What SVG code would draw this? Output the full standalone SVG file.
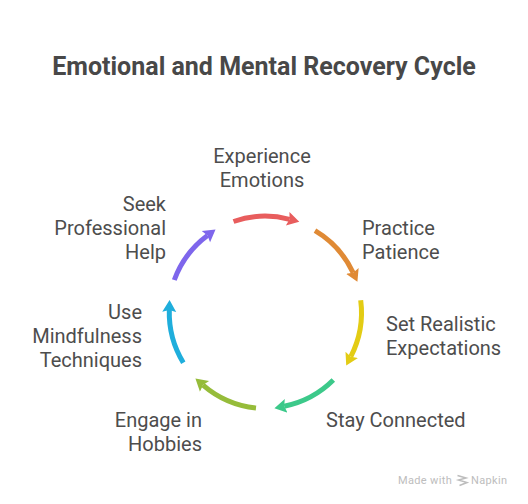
<svg xmlns="http://www.w3.org/2000/svg" width="528" height="504" viewBox="0 0 528 504">
<defs>
<style>
text{font-family:Roboto,"Liberation Sans",sans-serif;fill:#4d4d4d;font-size:20px}
.title{font-size:25px;font-weight:700;text-anchor:middle;fill:#484848}
.m{text-anchor:middle}.e{text-anchor:end}.s{text-anchor:start}
.wm{font-size:11px;fill:#bdbdbd;letter-spacing:.35px}
.arc{fill:none;stroke-width:5}
</style>
<marker id="h1" markerUnits="userSpaceOnUse" markerWidth="14" markerHeight="18" refX="2" refY="8" orient="auto"><path d="M0 1L12 8L0 15L2 8Z" fill="#E85D5D"/></marker>
<marker id="h2" markerUnits="userSpaceOnUse" markerWidth="14" markerHeight="18" refX="2" refY="8" orient="auto"><path d="M0 1L12 8L0 15L2 8Z" fill="#E08A35"/></marker>
<marker id="h3" markerUnits="userSpaceOnUse" markerWidth="14" markerHeight="18" refX="2" refY="8" orient="auto"><path d="M0 1L12 8L0 15L2 8Z" fill="#E3CC14"/></marker>
<marker id="h4" markerUnits="userSpaceOnUse" markerWidth="14" markerHeight="18" refX="2" refY="8" orient="auto"><path d="M0 1L12 8L0 15L2 8Z" fill="#3CC98A"/></marker>
<marker id="h5" markerUnits="userSpaceOnUse" markerWidth="14" markerHeight="18" refX="2" refY="8" orient="auto"><path d="M0 1L12 8L0 15L2 8Z" fill="#96BC3A"/></marker>
<marker id="h6" markerUnits="userSpaceOnUse" markerWidth="14" markerHeight="18" refX="2" refY="8" orient="auto"><path d="M0 1L12 8L0 15L2 8Z" fill="#1FAEDC"/></marker>
<marker id="h7" markerUnits="userSpaceOnUse" markerWidth="14" markerHeight="18" refX="2" refY="8" orient="auto"><path d="M0 1L12 8L0 15L2 8Z" fill="#7E66EC"/></marker>
</defs>
<rect width="528" height="504" fill="#fff"/>
<text class="title" x="264" y="75">Emotional and Mental Recovery Cycle</text>
<g id="connectors">
<path class="arc" stroke="#E85D5D" marker-end="url(#h1)" d="M233.5 221.5A96.5 96.5 0 0 1 289.6 219.3"/>
<path class="arc" stroke="#E08A35" marker-end="url(#h2)" d="M315 230.7A96.5 96.5 0 0 1 353.15 272.7"/>
<path class="arc" stroke="#E3CC14" marker-end="url(#h3)" d="M360.7 300.3A96.5 96.5 0 0 1 350.8 356.7"/>
<path class="arc" stroke="#3CC98A" marker-end="url(#h4)" d="M333.3 380A96.5 96.5 0 0 1 284.2 406.2"/>
<path class="arc" stroke="#96BC3A" marker-end="url(#h5)" d="M256 408A96.5 96.5 0 0 1 203 385.1"/>
<path class="arc" stroke="#1FAEDC" marker-end="url(#h6)" d="M183.3 362.7A96.5 96.5 0 0 1 169.3 309.9"/>
<path class="arc" stroke="#7E66EC" marker-end="url(#h7)" d="M174.3 280A96.5 96.5 0 0 1 207.5 235.5"/>
</g>
<g id="node-experience"><text class="m" x="262" y="163">Experience</text><text class="m" x="262" y="187">Emotions</text></g>
<g id="node-patience"><text class="s" x="362" y="235">Practice</text><text class="s" x="362" y="259">Patience</text></g>
<g id="node-expectations"><text class="s" x="386" y="331">Set Realistic</text><text class="s" x="386" y="355">Expectations</text></g>
<g id="node-connected"><text class="s" x="326" y="427">Stay Connected</text></g>
<g id="node-hobbies"><text class="e" x="202" y="427">Engage in</text><text class="e" x="202" y="451">Hobbies</text></g>
<g id="node-mindfulness"><text class="e" x="142" y="319">Use</text><text class="e" x="142" y="343">Mindfulness</text><text class="e" x="142" y="367">Techniques</text></g>
<g id="node-help"><text class="e" x="166" y="211">Seek</text><text class="e" x="166" y="235">Professional</text><text class="e" x="166" y="259">Help</text></g>
<g id="watermark">
<text class="wm" x="398" y="484">Made with</text>
<path d="M457.500 475.500L466 478L458.500 480L467 482.500L459.500 485.500" fill="none" stroke="#bdbdbd" stroke-width="1.500"/>
<text class="wm" x="471" y="484">Napkin</text>
</g>
</svg>
